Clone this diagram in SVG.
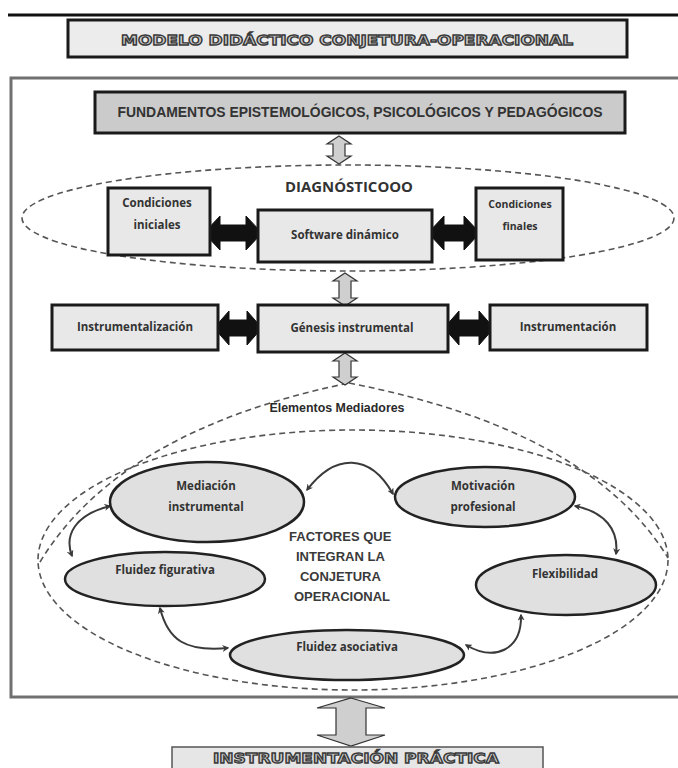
<svg xmlns="http://www.w3.org/2000/svg" width="678" height="768" viewBox="0 0 678 768">
<defs>
<style>
.box{fill:#e8e8e8;stroke:#1a1a1a;stroke-width:3}
.dark{fill:#cbcbcb;stroke:#1a1a1a;stroke-width:3}
.ell{fill:#e0e0e0;stroke:#222;stroke-width:2.5}
.dash{fill:none;stroke:#555;stroke-width:1.6;stroke-dasharray:6 4}
.lbl{font-family:"Open Sans","DejaVu Sans",sans-serif;font-weight:bold;font-size:11.5px;fill:#333;text-anchor:middle}
.narrow{font-family:"Liberation Sans",Arial,sans-serif;font-weight:bold;fill:#333;text-anchor:middle}
.outl{font-family:"DejaVu Sans",sans-serif;font-weight:bold;fill:#cdcdcd;stroke:#3a3a3a;stroke-width:1.3;text-anchor:middle}
.garrow{fill:#cfcfcf;stroke:#333;stroke-width:1.2}
.barrow{fill:#111;stroke:#111;stroke-width:1}
.conn{fill:none;stroke:#3a3a3a;stroke-width:2;marker-start:url(#ah);marker-end:url(#ah)}
</style>
<marker id="ah" viewBox="0 0 10 10" refX="8" refY="5" markerWidth="7" markerHeight="7" orient="auto-start-reverse" markerUnits="userSpaceOnUse">
<path d="M0,0 L10,5 L0,10 L3,5 z" fill="#3a3a3a"/>
</marker>
</defs>
<rect width="678" height="768" fill="#fff"/>
<line x1="8" y1="15" x2="678" y2="15" stroke="#111" stroke-width="3"/>

<g id="title">
<rect x="68" y="20" width="559" height="37" class="box" style="fill:#ececec"/>
<text x="347" y="45" class="outl" font-size="14.5" textLength="452" lengthAdjust="spacingAndGlyphs">MODELO DIDÁCTICO CONJETURA-OPERACIONAL</text>
</g>

<g id="frame">
<rect x="11" y="78" width="680" height="619" fill="none" stroke="#707070" stroke-width="3"/>
</g>

<g id="dashed-regions">
<ellipse cx="348" cy="218" rx="326" ry="53" class="dash"/>
<ellipse cx="353" cy="560" rx="315" ry="130" class="dash"/>
<path d="M40 562 Q120 430 349 383" class="dash"/>
<path d="M349 383 Q590 430 668 558" class="dash"/>
</g>

<g id="connectors">
<polygon class="garrow" points="339,136 351,144 345,144 345,156 351,156 339,164 327,156 333,156 333,144 327,144"/>
<polygon class="garrow" points="345,273 357,281 351,281 351,298 357,298 345,306 333,298 339,298 339,281 333,281"/>
<polygon class="garrow" points="345,353 357,361 351,361 351,377 357,377 345,385 333,377 339,377 339,361 333,361"/>
<polygon class="garrow" points="351,698 385,708 366,708 366,735 385,735 351,746 317,735 336,735 336,708 317,708"/>
<polygon class="barrow" points="204,233 220,216 220,225 246,225 246,216 262,233 246,250 246,241 220,241 220,250"/>
<polygon class="barrow" points="428,233 444,216 444,225 464,225 464,216 480,233 464,250 464,241 444,241 444,250"/>
<polygon class="barrow" points="214,328 229,311 229,320 247,320 247,311 262,328 247,345 247,336 229,336 229,345"/>
<polygon class="barrow" points="444,328 459,311 459,320 479,320 479,311 494,328 479,345 479,336 459,336 459,345"/>
<path class="conn" d="M307 490 C335 453 370 453 393 494"/>
<path class="conn" d="M110 506 C75 515 64 535 72 556"/>
<path class="conn" d="M575 506 C605 512 619 530 616 554"/>
<path class="conn" d="M160 608 C168 640 185 652 228 648"/>
<path class="conn" d="M521 615 C522 650 495 662 466 645"/>
</g>

<g id="fundamentos">
<rect x="95" y="92" width="530" height="41" class="dark"/>
<text x="360" y="117" class="narrow" font-size="14.5" textLength="485" lengthAdjust="spacingAndGlyphs">FUNDAMENTOS EPISTEMOLÓGICOS, PSICOLÓGICOS Y PEDAGÓGICOS</text>
</g>

<g id="diagnostico">
<text x="349" y="192" class="lbl" style="font-size:14px" textLength="128" lengthAdjust="spacingAndGlyphs">DIAGNÓSTICOOO</text>
</g>

<g id="cond-iniciales">
<rect x="108" y="188" width="102" height="67" class="box"/>
<text x="157" y="207" class="lbl">Condiciones</text>
<text x="157" y="229" class="lbl">iniciales</text>
</g>

<g id="software">
<rect x="258" y="210" width="174" height="52" class="box"/>
<text x="345" y="239" class="lbl">Software dinámico</text>
</g>

<g id="cond-finales">
<rect x="476" y="188" width="87" height="72" class="box"/>
<text x="520" y="208" class="lbl" style="font-size:10.5px">Condiciones</text>
<text x="520" y="230" class="lbl" style="font-size:10.5px">finales</text>
</g>

<g id="instrumentalizacion">
<rect x="52" y="305" width="166" height="45" class="box"/>
<text x="135" y="331" class="lbl">Instrumentalización</text>
</g>

<g id="genesis">
<rect x="258" y="305" width="190" height="47" class="box"/>
<text x="352" y="332" class="lbl">Génesis instrumental</text>
</g>

<g id="instrumentacion">
<rect x="490" y="305" width="157" height="45" class="box"/>
<text x="568" y="331" class="lbl">Instrumentación</text>
</g>

<g id="elementos">
<text x="337" y="412" class="narrow" font-size="12.5" style="fill:#2a2a2a" textLength="135" lengthAdjust="spacingAndGlyphs">Elementos Mediadores</text>
</g>

<g id="factores">
<text class="narrow" font-size="13" style="fill:#3a3a3a">
<tspan x="342" y="541">FACTORES QUE</tspan>
<tspan x="342" y="561">INTEGRAN LA</tspan>
<tspan x="342" y="581">CONJETURA</tspan>
<tspan x="342" y="601">OPERACIONAL</tspan>
</text>
</g>

<g id="mediacion">
<ellipse cx="207" cy="502" rx="97" ry="40" class="ell"/>
<text x="206" y="490" class="lbl">Mediación</text>
<text x="206" y="511" class="lbl">instrumental</text>
</g>

<g id="motivacion">
<ellipse cx="485" cy="497" rx="90" ry="30" class="ell"/>
<text x="483" y="490" class="lbl">Motivación</text>
<text x="483" y="511" class="lbl">profesional</text>
</g>

<g id="fluidez-figurativa">
<ellipse cx="165" cy="579" rx="100" ry="27" class="ell"/>
<text x="165" y="574" class="lbl">Fluidez figurativa</text>
</g>

<g id="flexibilidad">
<ellipse cx="566" cy="585" rx="90" ry="30" class="ell"/>
<text x="565" y="578" class="lbl">Flexibilidad</text>
</g>

<g id="fluidez-asociativa">
<ellipse cx="347" cy="655" rx="117" ry="25" class="ell"/>
<text x="347" y="651" class="lbl">Fluidez asociativa</text>
</g>

<g id="practica">
<rect x="172" y="747" width="371" height="30" fill="#e6e6e6" stroke="#555" stroke-width="1.5"/>
<text x="356" y="763" class="outl" font-size="14.5" textLength="286" lengthAdjust="spacingAndGlyphs">INSTRUMENTACIÓN  PRÁCTICA</text>
</g>
</svg>
